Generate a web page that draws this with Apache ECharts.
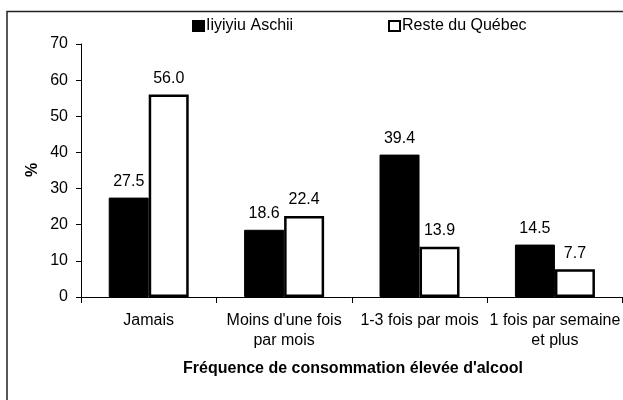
<!DOCTYPE html>
<html>
<head>
<meta charset="utf-8">
<script src="https://cdn.jsdelivr.net/npm/echarts@6/dist/echarts.min.js"></script>
<style>
	html, body { margin: 0; padding: 0; background: #fff; }
	#main { width: 623px; height: 400px; }
</style>
</head>
<body>
<div id="main"></div>
<script>
	// data
	const categories = ['Jamais', "Moins d'une fois\npar mois", '1-3 fois par mois', '1 fois par semaine\net plus'];
	const seriesNames = ['Iiyiyiu Aschii', 'Reste du Québec'];
	const iiyiyiuValues = [27.5, 18.6, 39.4, 14.5];
	const quebecValues = [56.0, 22.4, 13.9, 7.7];
	const yTicks = [0, 10, 20, 30, 40, 50, 60, 70];

	const font = 'Liberation Sans, Arial, sans-serif';

	const myChart = echarts.init(document.getElementById('main'));

	const valueLabel = {
		show: true,
		position: 'top',
		distance: 8,
		color: '#000',
		fontFamily: font,
		fontSize: 16,
		formatter: (p) => p.value.toFixed(1)
	};

	const legendText = { fontFamily: font, fontSize: 16, color: '#000', padding: [0, 0, 0, -3] };

	const option = {
		animation: false,
		textStyle: { fontFamily: font },
		legend: [
			{
				data: [seriesNames[0]],
				left: 187,
				top: 13,
				icon: 'rect',
				itemWidth: 11,
				itemHeight: 10,
				textStyle: legendText
			},
			{
				data: [seriesNames[1]],
				left: 383,
				top: 13,
				icon: 'rect',
				itemWidth: 11,
				itemHeight: 10,
				textStyle: legendText
			}
		],
		grid: {
			left: 81,
			right: -2,
			top: 44,
			bottom: 103,
			containLabel: false
		},
		xAxis: {
			type: 'category',
			data: categories,
			axisLine: { lineStyle: { color: '#000', width: 1 } },
			axisTick: { show: true, length: 6, lineStyle: { color: '#000' } },
			axisLabel: {
				color: '#000',
				fontFamily: font,
				fontSize: 16,
				lineHeight: 20,
				margin: 14,
				interval: 0
			}
		},
		yAxis: {
			type: 'value',
			min: yTicks[0],
			max: yTicks[yTicks.length - 1],
			interval: 10,
			splitLine: { show: false },
			axisLine: { show: true, lineStyle: { color: '#000', width: 1 } },
			axisTick: { show: true, length: 5, lineStyle: { color: '#000' } },
			axisLabel: {
				color: '#000',
				fontFamily: font,
				fontSize: 16,
				margin: 13
			}
		},
		graphic: [
			{
				type: 'rect',
				shape: { x: 7, y: 11.5, width: 700, height: 500 },
				style: { fill: 'none', stroke: '#222', lineWidth: 1.5 },
				silent: true
			},
			{
				type: 'text',
				x: 33,
				y: 170,
				rotation: Math.PI / 2,
				style: {
					text: '%',
					fontFamily: font,
					fontSize: 16,
					fontWeight: 'bold',
					fill: '#000',
					align: 'center',
					verticalAlign: 'middle'
				}
			},
			{
				type: 'text',
				x: 353,
				y: 369,
				style: {
					text: "Fréquence de consommation élevée d'alcool",
					fontFamily: font,
					fontSize: 16,
					fontWeight: 'bold',
					fill: '#000',
					align: 'center',
					verticalAlign: 'middle'
				}
			}
		],
		series: [
			{
				name: seriesNames[0],
				type: 'bar',
				data: iiyiyiuValues,
				barWidth: 40,
				barGap: '0%',
				itemStyle: { color: '#000', borderColor: '#000', borderWidth: 1 },
				label: valueLabel
			},
			{
				name: seriesNames[1],
				type: 'bar',
				data: quebecValues,
				barWidth: 40,
				barGap: '0%',
				itemStyle: { color: '#fff', borderColor: '#000', borderWidth: 2.5 },
				label: valueLabel
			}
		]
	};

	myChart.setOption(option);
</script>
</body>
</html>
